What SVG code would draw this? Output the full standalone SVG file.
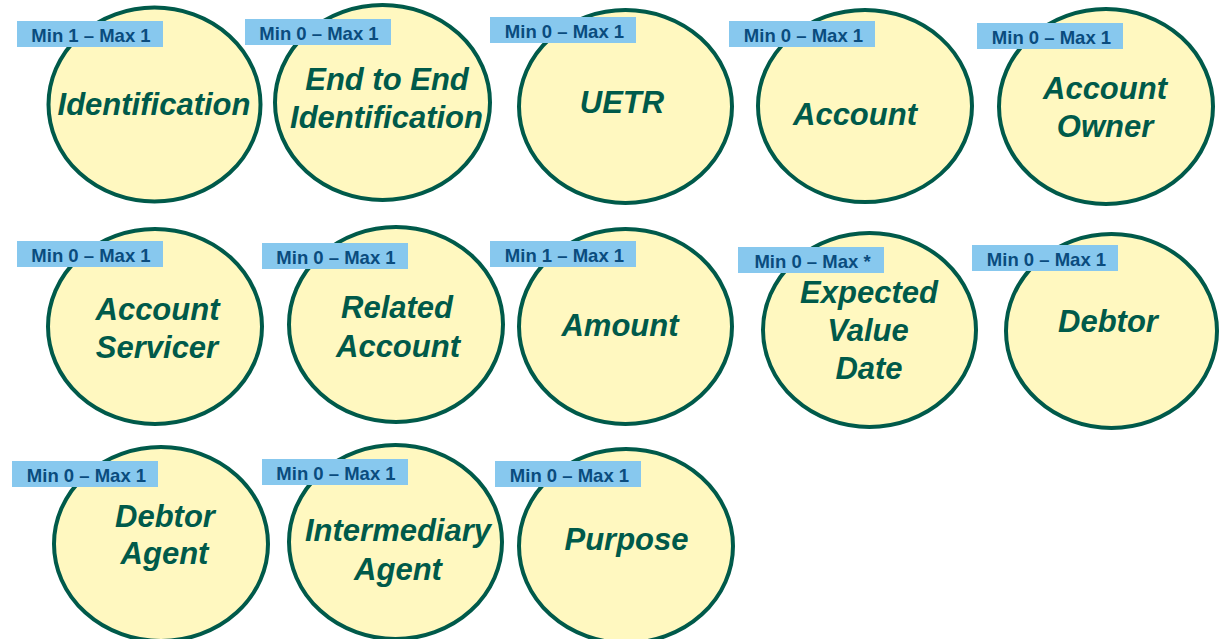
<svg xmlns="http://www.w3.org/2000/svg" width="1220" height="639" viewBox="0 0 1220 639">
<style>
.bg{fill:#ffffff}
.el{fill:#FFF8C0;stroke:#005A4A;stroke-width:4}
.nm{font-family:"Liberation Sans",Arial,sans-serif;font-size:31px;font-weight:bold;font-style:italic;fill:#005A4A;text-anchor:middle}
.tag{fill:#87C8EE}
.tt{font-family:"Liberation Sans",Arial,sans-serif;font-size:18.5px;font-weight:bold;fill:#0A4C7E;text-anchor:middle}
</style>
<rect class="bg" x="0" y="0" width="1220" height="639"/>

<g id="identification">
<ellipse class="el" cx="154.5" cy="104.5" rx="106" ry="97"/>
<text class="nm" x="154" y="115">Identification</text>
<rect class="tag" x="17" y="21" width="146" height="26"/>
<text class="tt" x="91" y="41.5">Min 1 – Max 1</text>
</g>

<g id="end-to-end-identification">
<ellipse class="el" cx="382.5" cy="102.5" rx="107.5" ry="97.5"/>
<text class="nm" x="387" y="90">End to End</text>
<text class="nm" x="386.5" y="128">Identification</text>
<rect class="tag" x="245" y="19" width="146" height="26"/>
<text class="tt" x="319" y="39.5">Min 0 – Max 1</text>
</g>

<g id="uetr">
<ellipse class="el" cx="625.5" cy="106.5" rx="106.5" ry="96.5"/>
<text class="nm" x="622" y="113">UETR</text>
<rect class="tag" x="490" y="17" width="146" height="26"/>
<text class="tt" x="564.5" y="37.5">Min 0 – Max 1</text>
</g>

<g id="account">
<ellipse class="el" cx="865" cy="106" rx="107" ry="96"/>
<text class="nm" x="855" y="125">Account</text>
<rect class="tag" x="729" y="21" width="146" height="26"/>
<text class="tt" x="803.5" y="41.5">Min 0 – Max 1</text>
</g>

<g id="account-owner">
<ellipse class="el" cx="1106" cy="106.5" rx="107" ry="97.5"/>
<text class="nm" x="1105" y="99">Account</text>
<text class="nm" x="1105" y="137">Owner</text>
<rect class="tag" x="977" y="23" width="146" height="26"/>
<text class="tt" x="1051.5" y="43.5">Min 0 – Max 1</text>
</g>

<g id="account-servicer">
<ellipse class="el" cx="155" cy="326.5" rx="107" ry="97.5"/>
<text class="nm" x="157.5" y="320">Account</text>
<text class="nm" x="157" y="358">Servicer</text>
<rect class="tag" x="17" y="241" width="146" height="26"/>
<text class="tt" x="91" y="261.5">Min 0 – Max 1</text>
</g>

<g id="related-account">
<ellipse class="el" cx="396" cy="324.5" rx="107" ry="97.5"/>
<text class="nm" x="397" y="318">Related</text>
<text class="nm" x="398" y="357">Account</text>
<rect class="tag" x="262" y="243" width="146" height="26"/>
<text class="tt" x="336" y="263.5">Min 0 – Max 1</text>
</g>

<g id="amount">
<ellipse class="el" cx="625.5" cy="326.5" rx="106.5" ry="97.5"/>
<text class="nm" x="620" y="336">Amount</text>
<rect class="tag" x="490" y="241" width="146" height="26"/>
<text class="tt" x="564.5" y="261.5">Min 1 – Max 1</text>
</g>

<g id="expected-value-date">
<ellipse class="el" cx="869.5" cy="330" rx="106.5" ry="97"/>
<text class="nm" x="869" y="303">Expected</text>
<text class="nm" x="868" y="341">Value</text>
<text class="nm" x="869" y="379">Date</text>
<rect class="tag" x="738" y="247" width="146" height="26"/>
<text class="tt" x="812.5" y="267.5">Min 0 – Max *</text>
</g>

<g id="debtor">
<ellipse class="el" cx="1111.5" cy="331" rx="105.5" ry="97"/>
<text class="nm" x="1108" y="332">Debtor</text>
<rect class="tag" x="972" y="245" width="146" height="26"/>
<text class="tt" x="1046.5" y="265.5">Min 0 – Max 1</text>
</g>

<g id="debtor-agent">
<ellipse class="el" cx="161" cy="544" rx="107" ry="97"/>
<text class="nm" x="165" y="527">Debtor</text>
<text class="nm" x="164.5" y="564">Agent</text>
<rect class="tag" x="12" y="461" width="146" height="26"/>
<text class="tt" x="86.5" y="481.5">Min 0 – Max 1</text>
</g>

<g id="intermediary-agent">
<ellipse class="el" cx="395.5" cy="542" rx="106.5" ry="97"/>
<text class="nm" x="398" y="541">Intermediary</text>
<text class="nm" x="398" y="580">Agent</text>
<rect class="tag" x="262" y="459" width="146" height="26"/>
<text class="tt" x="336" y="479.5">Min 0 – Max 1</text>
</g>

<g id="purpose">
<ellipse class="el" cx="626" cy="546" rx="107" ry="97"/>
<text class="nm" x="626.5" y="550">Purpose</text>
<rect class="tag" x="495" y="461" width="146" height="26"/>
<text class="tt" x="569.5" y="481.5">Min 0 – Max 1</text>
</g>
</svg>
